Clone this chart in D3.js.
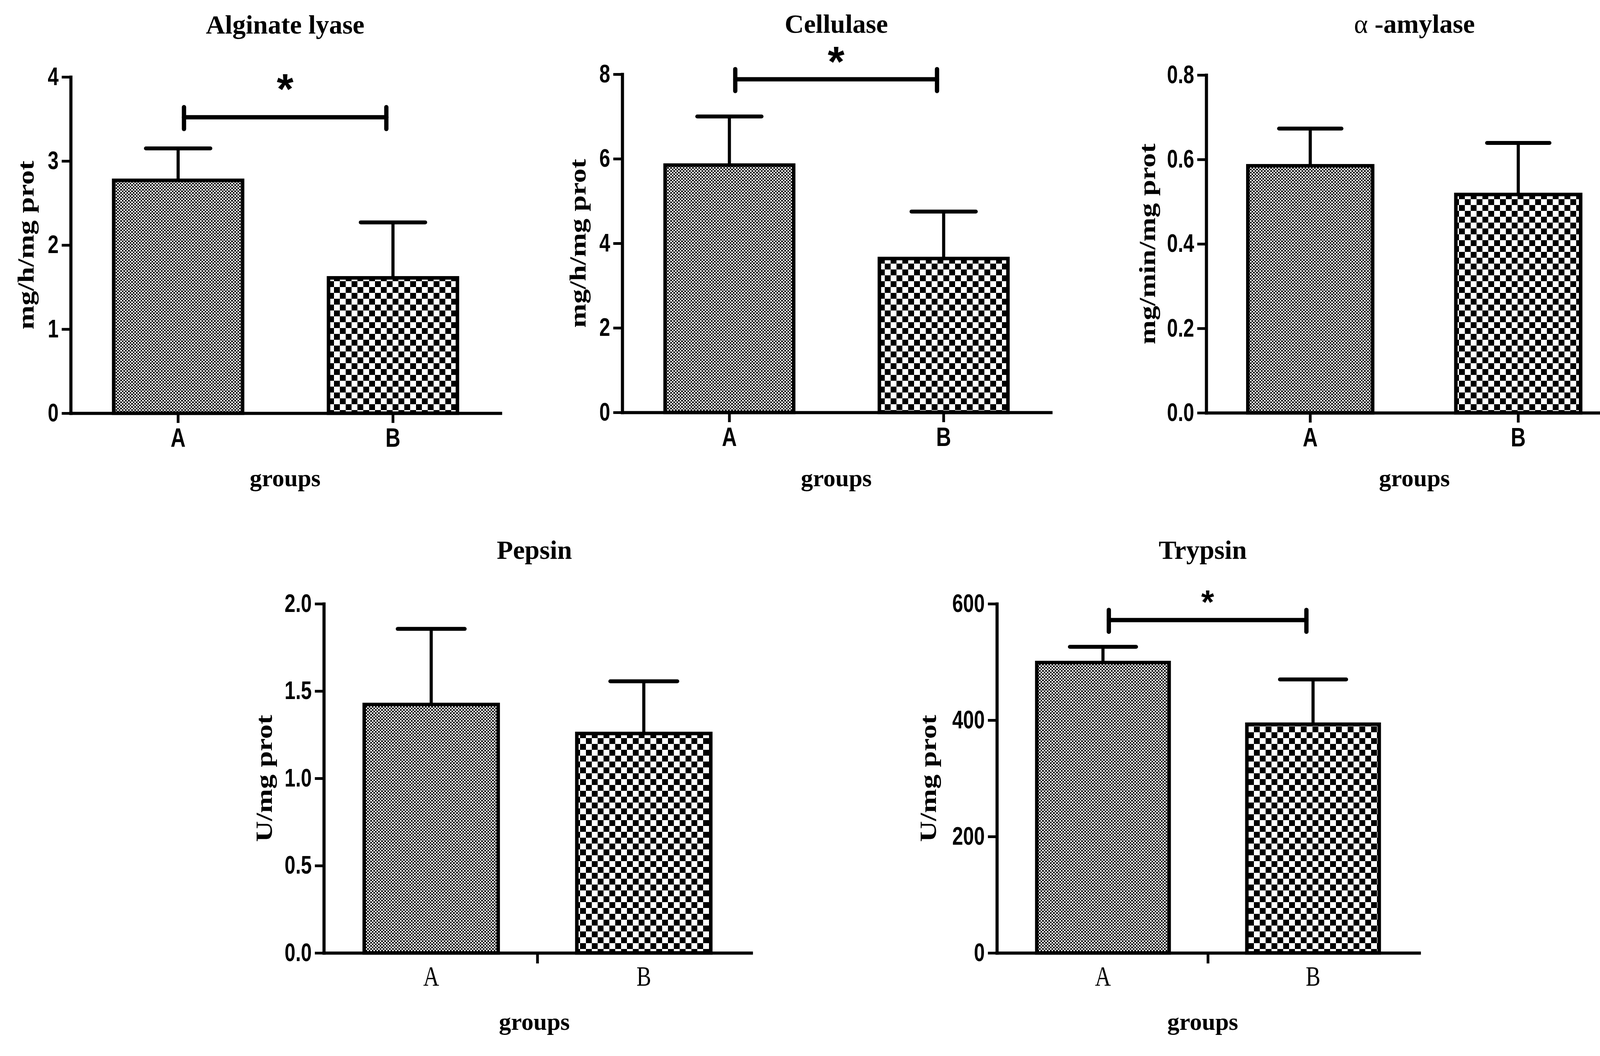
<!DOCTYPE html>
<html>
<head>
<meta charset="utf-8">
<script src="https://cdn.jsdelivr.net/npm/d3@7/dist/d3.min.js"></script>
<style>
  html, body { margin: 0; padding: 0; background: #fff; }
  svg { display: block; }
</style>
</head>
<body>
<div id="chart"></div>
<script>
// values (mean and SD per group)
const groups = ['A', 'B'];

const alginateMeans = [2.77, 1.61];
const alginateSD = [0.38, 0.66];
const alginateTicks = [0, 1, 2, 3, 4];
const alginateSig = 3.52;

const cellulaseMeans = [5.85, 3.64];
const cellulaseSD = [1.15, 1.11];
const cellulaseTicks = [0, 2, 4, 6, 8];
const cellulaseSig = 7.88;

const amylaseMeans = [0.585, 0.517];
const amylaseSD = [0.088, 0.122];
const amylaseTicks = [0, 0.2, 0.4, 0.6, 0.8];

const pepsinMeans = [1.423, 1.257];
const pepsinSD = [0.433, 0.299];
const pepsinTicks = [0, 0.5, 1.0, 1.5, 2.0];

const trypsinMeans = [499, 393];
const trypsinSD = [27, 77];
const trypsinTicks = [0, 200, 400, 600];
const trypsinSig = 572;

const width = 4202,
    height = 2704;

const serif = "'Liberation Serif', 'Times New Roman', serif";
const sans = "'Liberation Sans', Arial, sans-serif";

const svg = d3
    .select('#chart')
    .append('svg')
    .attr('width', width)
    .attr('height', height);

svg.append('rect').attr('width', width).attr('height', height).attr('fill', '#fff');

const defs = svg.append('defs');

function checker(id, cell) {
    const p = defs
        .append('pattern')
        .attr('id', id)
        .attr('patternUnits', 'userSpaceOnUse')
        .attr('width', cell * 2)
        .attr('height', cell * 2);
    p.append('rect').attr('width', cell * 2).attr('height', cell * 2).attr('fill', '#fff');
    p.append('rect').attr('width', cell).attr('height', cell).attr('fill', '#000');
    p.append('rect').attr('x', cell).attr('y', cell).attr('width', cell).attr('height', cell).attr('fill', '#000');
}
checker('fineCheck', 4);
checker('coarseCheck', 15);

// layout of each small chart
const panels = [
    {
        title: [{ t: 'Alginate lyase', w: 'bold' }],
        ylabel: 'mg/h/mg prot',
        means: alginateMeans, sd: alginateSD, ticks: alginateTicks, fmt: d3.format('d'), sig: alginateSig,
        x0: 181, x1: 1281, yTop: 197, yBot: 1058, cx: 730, titleY: 86, labelX: 86, groupsY: 1245,
        row: 'top', starSize: 110, starGap: 80,
    },
    {
        title: [{ t: 'Cellulase', w: 'bold' }],
        ylabel: 'mg/h/mg prot',
        means: cellulaseMeans, sd: cellulaseSD, ticks: cellulaseTicks, fmt: d3.format('d'), sig: cellulaseSig,
        x0: 1593, x1: 2690, yTop: 190, yBot: 1056, cx: 2141, titleY: 84, labelX: 1499, groupsY: 1245,
        row: 'top', starSize: 110, starGap: 53,
    },
    {
        title: [{ t: 'α', w: 'normal' }, { t: ' -amylase', w: 'bold' }],
        ylabel: 'mg/min/mg prot',
        means: amylaseMeans, sd: amylaseSD, ticks: amylaseTicks, fmt: d3.format('.1f'), sig: null,
        x0: 3088, x1: 4153, yTop: 192, yBot: 1057, cx: 3621, titleY: 84, labelX: 2957, groupsY: 1245,
        row: 'top',
    },
    {
        title: [{ t: 'Pepsin', w: 'bold' }],
        ylabel: 'U/mg prot',
        means: pepsinMeans, sd: pepsinSD, ticks: pepsinTicks, fmt: d3.format('.1f'), sig: null,
        x0: 829, x1: 1923, yTop: 1546, yBot: 2440, cx: 1368, titleY: 1431, labelX: 696, groupsY: 2637,
        row: 'bottom',
    },
    {
        title: [{ t: 'Trypsin', w: 'bold' }],
        ylabel: 'U/mg prot',
        means: trypsinMeans, sd: trypsinSD, ticks: trypsinTicks, fmt: d3.format('d'), sig: trypsinSig,
        x0: 2552, x1: 3633, yTop: 1546, yBot: 2440, cx: 3079, titleY: 1431, labelX: 2396, groupsY: 2637,
        row: 'bottom', starSize: 85, starGap: 52,
    },
];

panels.forEach(drawPanel);

function drawPanel(p) {
    const g = svg.append('g');
    const top = p.row === 'top';

    const x = d3
        .scaleBand()
        .domain(groups)
        .range([p.x0, p.x1])
        .paddingInner(top ? 0.4 : 0.37)
        .paddingOuter(top ? 0.2 : 0.19);

    const y = d3
        .scaleLinear()
        .domain([0, p.ticks[p.ticks.length - 1]])
        .range([p.yBot, p.yTop]);

    const bw = x.bandwidth();
    const data = groups.map((name, i) => ({
        group: name,
        mean: p.means[i],
        sd: p.sd[i],
        fill: i === 0 ? 'url(#fineCheck)' : 'url(#coarseCheck)',
    }));

    // y axis
    const sx = 0.78;
    const gy = g
        .append('g')
        .attr('transform', `translate(${p.x0},0)`)
        .call(d3.axisLeft(y).tickValues(p.ticks).tickFormat(p.fmt).tickSize(23).tickSizeOuter(0));
    gy.select('.domain').attr('stroke', '#000').attr('stroke-width', 8).attr('stroke-linecap', 'square');
    gy.selectAll('.tick line').attr('stroke', '#000').attr('stroke-width', 7);
    gy.selectAll('.tick text')
        .attr('fill', '#000')
        .attr('font-family', sans)
        .attr('font-weight', 'bold')
        .attr('font-size', 64)
        .attr('x', -31 / sx)
        .attr('transform', `scale(${sx},1)`);

    // x axis
    const gx = g
        .append('g')
        .attr('transform', `translate(0,${p.yBot})`)
        .call(d3.axisBottom(x).tickSize(top ? 25 : 0).tickSizeOuter(0));
    gx.select('.domain').attr('stroke', '#000').attr('stroke-width', 8).attr('stroke-linecap', 'square');
    gx.selectAll('.tick line').attr('stroke', '#000').attr('stroke-width', 7);
    if (top) {
        gx.selectAll('.tick text')
            .attr('fill', '#000')
            .attr('font-family', sans)
            .attr('font-weight', 'bold')
            .attr('font-size', 68)
            .attr('y', 86)
            .attr('dy', 0)
            .attr('transform', `scale(${sx},1)`);
    } else {
        gx.selectAll('.tick text')
            .attr('fill', '#000')
            .attr('font-family', serif)
            .attr('font-weight', 'normal')
            .attr('font-size', 72)
            .attr('y', 84)
            .attr('dy', 0)
            .attr('transform', 'scale(0.78,1)');
        // single tick between the two groups
        const mid = (x('A') + x('B') + bw) / 2;
        gx.append('line')
            .attr('x1', mid)
            .attr('x2', mid)
            .attr('y1', 0)
            .attr('y2', 27)
            .attr('stroke', '#000')
            .attr('stroke-width', 7);
    }

    // bars
    g.append('g')
        .selectAll('rect')
        .data(data)
        .join('rect')
        .attr('x', (d) => x(d.group))
        .attr('y', (d) => y(d.mean))
        .attr('width', bw)
        .attr('height', (d) => y(0) - y(d.mean))
        .attr('fill', (d) => d.fill)
        .attr('stroke', '#000')
        .attr('stroke-width', 9);

    // error bars (upper half only)
    const err = g.append('g').selectAll('g').data(data).join('g');
    err.append('line')
        .attr('x1', (d) => x(d.group) + bw / 2)
        .attr('x2', (d) => x(d.group) + bw / 2)
        .attr('y1', (d) => y(d.mean))
        .attr('y2', (d) => y(d.mean + d.sd))
        .attr('stroke', '#000')
        .attr('stroke-width', 8);
    err.append('line')
        .attr('x1', (d) => x(d.group) + bw / 4)
        .attr('x2', (d) => x(d.group) + (3 * bw) / 4)
        .attr('y1', (d) => y(d.mean + d.sd))
        .attr('y2', (d) => y(d.mean + d.sd))
        .attr('stroke', '#000')
        .attr('stroke-width', 10)
        .attr('stroke-linecap', 'round');

    // significance bracket
    if (p.sig !== null) {
        const xa = x('A') + bw / 2 + 15,
            xb = x('B') + bw / 2 - 17,
            yb = y(p.sig);
        const br = g.append('g').attr('stroke', '#000').attr('stroke-width', 11).attr('stroke-linecap', 'round');
        br.append('line').attr('x1', xa).attr('x2', xb).attr('y1', yb).attr('y2', yb);
        br.append('line').attr('x1', xa).attr('x2', xa).attr('y1', yb - 26).attr('y2', yb + 30);
        br.append('line').attr('x1', xb).attr('x2', xb).attr('y1', yb - 26).attr('y2', yb + 30);
        g.append('text')
            .attr('x', (xa + xb) / 2)
            .attr('y', yb - p.starGap + 0.41 * p.starSize)
            .attr('text-anchor', 'middle')
            .attr('font-family', sans)
            .attr('font-weight', 'bold')
            .attr('font-size', p.starSize)
            .text('*');
    }

    // title
    const t = g
        .append('text')
        .attr('x', p.cx)
        .attr('y', p.titleY)
        .attr('text-anchor', 'middle')
        .attr('font-family', serif)
        .attr('font-size', 68);
    p.title.forEach((part) => t.append('tspan').attr('font-weight', part.w).text(part.t));

    // y label
    g.append('text')
        .attr('transform', `translate(${p.labelX},${(p.yTop + p.yBot) / 2}) rotate(-90) scale(1,0.8)`)
        .attr('text-anchor', 'middle')
        .attr('font-family', serif)
        .attr('font-weight', 'bold')
        .attr('font-size', 74)
        .text(p.ylabel);

    // x label
    g.append('text')
        .attr('x', p.cx)
        .attr('y', p.groupsY)
        .attr('text-anchor', 'middle')
        .attr('font-family', serif)
        .attr('font-weight', 'bold')
        .attr('font-size', 62)
        .text('groups');
}
</script>
</body>
</html>
